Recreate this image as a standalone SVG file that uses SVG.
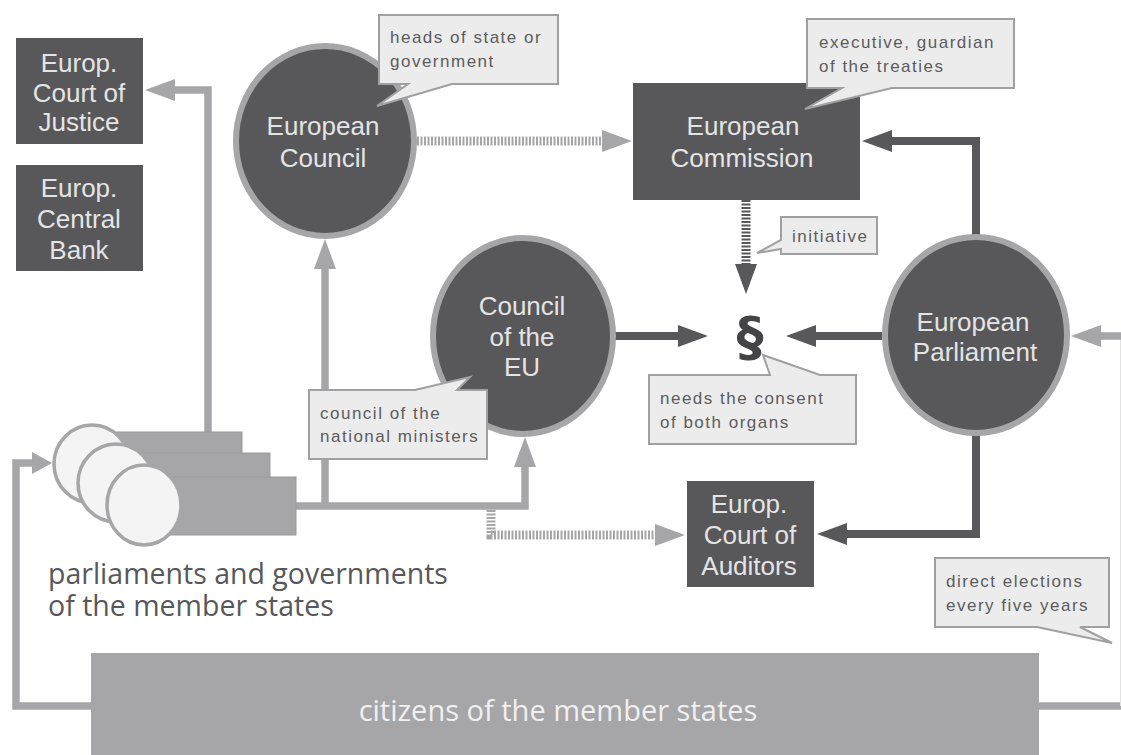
<svg xmlns="http://www.w3.org/2000/svg" width="1121" height="755" viewBox="0 0 1121 755">
<style>
.dark{fill:#58585a}
.ell{fill:#58585a;stroke:#a6a6a8;stroke-width:6}
.state-r{fill:#a6a6a8;stroke:#9a9a9c;stroke-width:1}
.state-c{fill:#f4f4f4;stroke:#a6a6a8;stroke-width:3.5}
.t{font-family:"Liberation Sans",Arial,sans-serif;font-size:26px;fill:#e4e4e4;text-anchor:middle}
.call{fill:#ececec;stroke:#a0a0a2;stroke-width:2}
.ct{font-family:"Liberation Sans",Arial,sans-serif;font-size:17px;letter-spacing:1.5px;fill:#5c5c5e}
.lbl{font-family:"Open Sans",sans-serif;font-size:28.5px;fill:#58585a}
.l{fill:none;stroke:#a6a6a8;stroke-width:7.5}
.d{fill:none;stroke:#58585a;stroke-width:8}
.ld{fill:none;stroke:#a6a6a8;stroke-width:9;stroke-dasharray:2 1.5}
.dd{fill:none;stroke:#58585a;stroke-width:9;stroke-dasharray:2 1.5}
</style>
<defs>
<marker id="al" markerUnits="userSpaceOnUse" markerWidth="32" markerHeight="24" refX="0" refY="11" orient="auto"><path d="M0 0L30 11L0 22Z" fill="#a6a6a8"/></marker>
<marker id="as" markerUnits="userSpaceOnUse" markerWidth="22" markerHeight="24" refX="0" refY="11" orient="auto"><path d="M0 0L20 11L0 22Z" fill="#a6a6a8"/></marker>
<marker id="ad" markerUnits="userSpaceOnUse" markerWidth="32" markerHeight="24" refX="0" refY="11" orient="auto"><path d="M0 0L30 11L0 22Z" fill="#58585a"/></marker>
</defs>
<g id="connectors">
<path class="l" d="M208 433V90H175" marker-end="url(#al)"/>
<path class="l" d="M296 506H525V467" marker-end="url(#al)"/>
<path class="l" d="M325 506V269" marker-end="url(#al)"/>
<path class="l" d="M91 706H16V463H32" marker-end="url(#as)"/>
<path class="l" d="M1039 706H1121"/>
<path d="M1120.5 335V706" fill="none" stroke="#e2e2e2" stroke-width="1"/>
<path class="l" d="M1121 336H1101" marker-end="url(#al)"/>
<path class="ld" d="M417 141H602" marker-end="url(#al)"/>
<path class="ld" d="M491 510V535H655" marker-end="url(#al)"/>
<path class="dd" d="M746 200V264" marker-end="url(#ad)"/>
<path class="d" d="M976 236V141H892" marker-end="url(#ad)"/>
<path class="d" d="M976 434V534H847" marker-end="url(#ad)"/>
<path class="d" d="M615 336H678" marker-end="url(#ad)"/>
<path class="d" d="M882 336H816" marker-end="url(#ad)"/>
</g>
<g id="court-of-justice"><rect class="dark" x="16" y="38" width="127" height="106"/><text class="t" x="79" y="72">Europ.</text><text class="t" x="79" y="102">Court of</text><text class="t" x="79" y="131">Justice</text></g>
<g id="central-bank"><rect class="dark" x="16" y="165" width="127" height="106"/><text class="t" x="79" y="197">Europ.</text><text class="t" x="79" y="228">Central</text><text class="t" x="79" y="259">Bank</text></g>
<g id="european-council"><ellipse class="ell" cx="325" cy="141" rx="89" ry="95"/><text class="t" x="323" y="135">European</text><text class="t" x="323" y="167">Council</text></g>
<g id="european-commission"><rect class="dark" x="633" y="83" width="227" height="117"/><text class="t" x="743" y="135">European</text><text class="t" x="742" y="167">Commission</text></g>
<g id="council-eu"><ellipse class="ell" cx="523" cy="336" rx="90" ry="98"/><text class="t" x="522" y="315">Council</text><text class="t" x="522" y="346">of the</text><text class="t" x="522" y="376">EU</text></g>
<g id="european-parliament"><ellipse class="ell" cx="976" cy="335" rx="91" ry="98"/><text class="t" x="973" y="331">European</text><text class="t" x="975" y="361">Parliament</text></g>
<g id="court-of-auditors"><rect class="dark" x="687" y="481" width="127" height="106"/><text class="t" x="749" y="513">Europ.</text><text class="t" x="750" y="544">Court of</text><text class="t" x="749" y="575">Auditors</text></g>
<g id="member-states">
<rect class="state-r" x="110" y="432" width="132" height="50"/>
<rect class="state-r" x="140" y="453" width="130" height="50"/>
<rect class="state-r" x="170" y="477" width="126" height="58"/>
<ellipse class="state-c" cx="92" cy="464" rx="38" ry="39"/>
<ellipse class="state-c" cx="116" cy="483" rx="38" ry="39"/>
<ellipse class="state-c" cx="144" cy="505" rx="37" ry="40"/>
<text class="lbl"><tspan x="48" y="584">parliaments and governments</tspan><tspan x="48" y="616">of the member states</tspan></text>
</g>
<g id="citizens"><rect x="91" y="653" width="948" height="102" fill="#a6a6a8"/><text x="558" y="721" font-family="Open Sans,sans-serif" font-size="29" fill="#f0f0f0" text-anchor="middle">citizens of the member states</text></g>
<g id="section"><text x="750" y="355" font-family="DejaVu Sans,sans-serif" font-weight="bold" font-size="54" fill="#444446" text-anchor="middle">§</text></g>
<g id="note-heads"><path class="call" d="M379 15H558V84H452L377 106L408 84H379Z"/><text class="ct" x="390" y="43">heads of state or</text><text class="ct" x="390" y="67">government</text></g>
<g id="note-executive"><path class="call" d="M807 19H1014V88H892L805 109L842 88H807Z"/><text class="ct" x="819" y="48">executive, guardian</text><text class="ct" x="819" y="72">of the treaties</text></g>
<g id="note-initiative"><path class="call" d="M781 217H877V254H781V249L757 253L781 240Z"/><text class="ct" x="792" y="242">initiative</text></g>
<g id="note-consent"><path class="call" d="M649 375H770L763 355L820 375H856V444H649Z"/><text class="ct" x="660" y="404">needs the consent</text><text class="ct" x="660" y="428">of both organs</text></g>
<g id="note-ministers"><path class="call" d="M309 390H415L470 377L457 390H487V459H309Z"/><text class="ct" x="320" y="419">council of the</text><text class="ct" x="320" y="442">national ministers</text></g>
<g id="note-elections"><path class="call" d="M935 558H1109V627H1080L1112 643L1037 627H935Z"/><text class="ct" x="946" y="587">direct elections</text><text class="ct" x="946" y="611">every five years</text></g>
</svg>
